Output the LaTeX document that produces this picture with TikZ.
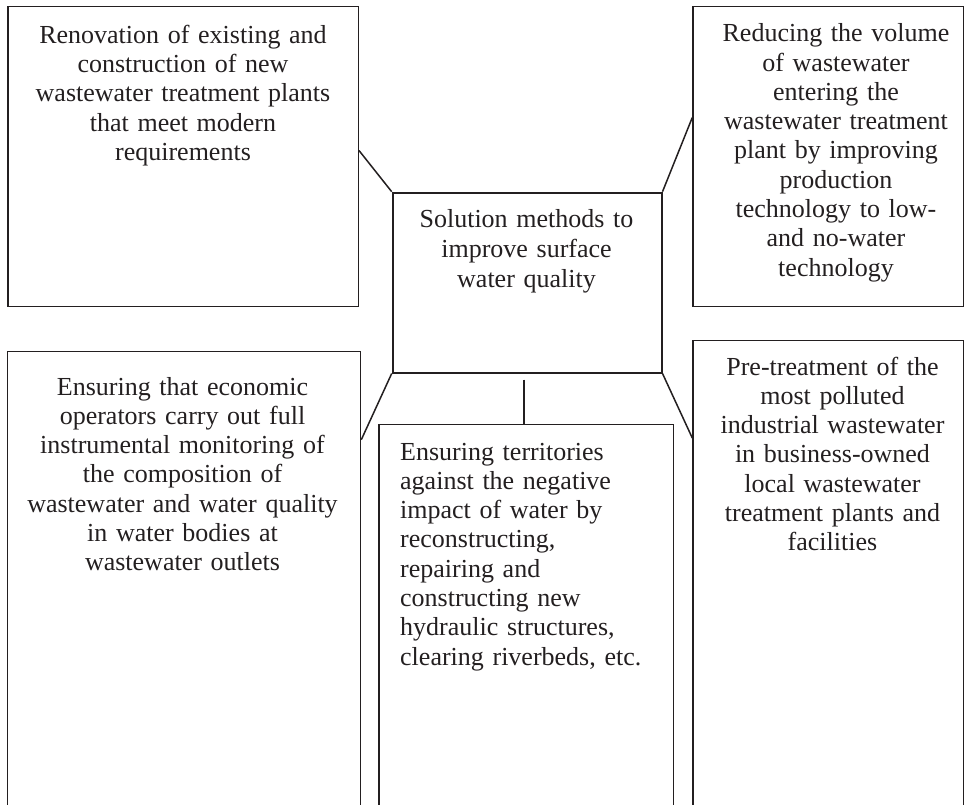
\documentclass[tikz,border=0pt]{standalone}
\usepackage{fontspec}
\setmainfont{Liberation Serif}
\usepackage{tikz}
\usepackage{xcolor}
\usetikzlibrary{positioning, calc}
\definecolor{framecolor}{HTML}{231F20}
\definecolor{textcolor}{HTML}{231F20}
\tikzset{
    block/.style={draw=framecolor, line width=1.3pt, rectangle, inner sep=0pt, anchor=north west},
    coreblock/.style={block, line width=1.8pt},
    blocktext/.style={inner sep=0pt, text=textcolor, align=center, anchor=base, font=\fontsize{26}{29.3}\selectfont},
    link/.style={draw=framecolor, line width=1.5pt},
}

\begin{document}
\begin{tikzpicture}[x=1pt, y=-1pt]

\useasboundingbox (0,0) rectangle (967,804);
\clip (0,0) rectangle (967,804);

% ============================================================
% CENTRE
% ============================================================
\node[coreblock, minimum width=269pt, minimum height=180pt] (core) at (391.7,191.7) {};
\node[blocktext, text width=260pt, font=\fontsize{26}{30}\selectfont] (coretxt) at (526.5,227.3) {Solution methods to\\improve surface\\water quality};

% ============================================================
% TOP ROW
% ============================================================
\node[block, minimum width=350.4pt, minimum height=299.7pt] (renov) at (7.3,6) {};
\node[blocktext, text width=340pt] (renovtxt) at (183,43.3) {Renovation of existing and\\construction of new\\wastewater treatment plants\\that meet modern\\requirements};

\node[block, minimum width=270.4pt, minimum height=299.7pt] (reduce) at (692.3,6) {};
\node[blocktext, text width=262pt] (reducetxt) at (836,41.7) {Reducing the volume\\of wastewater\\entering the\\wastewater treatment\\plant by improving\\production\\technology to low-\\and no-water\\technology};

% ============================================================
% BOTTOM ROW (boxes run past the lower edge)
% ============================================================
\node[block, minimum width=353.3pt, minimum height=480pt] (econ) at (6.7,350.7) {};
\node[blocktext, text width=345pt] (econtxt) at (182.5,395) {Ensuring that economic\\operators carry out full\\instrumental monitoring of\\the composition of\\wastewater and water quality\\in water bodies at\\wastewater outlets};

\node[block, minimum width=294.4pt, minimum height=420pt] (terr) at (378.3,424) {};
\node[blocktext, align=left, anchor=base west, text width=265pt] (terrtxt) at (400,460) {Ensuring territories\\against the negative\\impact of water by\\reconstructing,\\repairing and\\constructing new\\hydraulic structures,\\clearing riverbeds, etc.};

\node[block, minimum width=270.4pt, minimum height=490pt] (pretreat) at (692.3,340) {};
\node[blocktext, text width=262pt] (pretreattxt) at (832.5,375) {Pre-treatment of the\\most polluted\\industrial wastewater\\in business-owned\\local wastewater\\treatment plants and\\facilities};

% Connectors
\draw[link] ([yshift=6pt]renov.east) -- (core.north west);
\draw[link] ([yshift=39pt]reduce.west) -- (core.north east);
\draw[link] (core.south west) -- ([yshift=-89pt]econ.north east);
\draw[link] (core.south east) -- ([yshift=-98pt]pretreat.north west);
\coordinate (stem) at ([shift={(-3pt,-6pt)}]core.south);
\draw[link] (stem) -- (stem |- terr.north);

\end{tikzpicture}
\end{document}
